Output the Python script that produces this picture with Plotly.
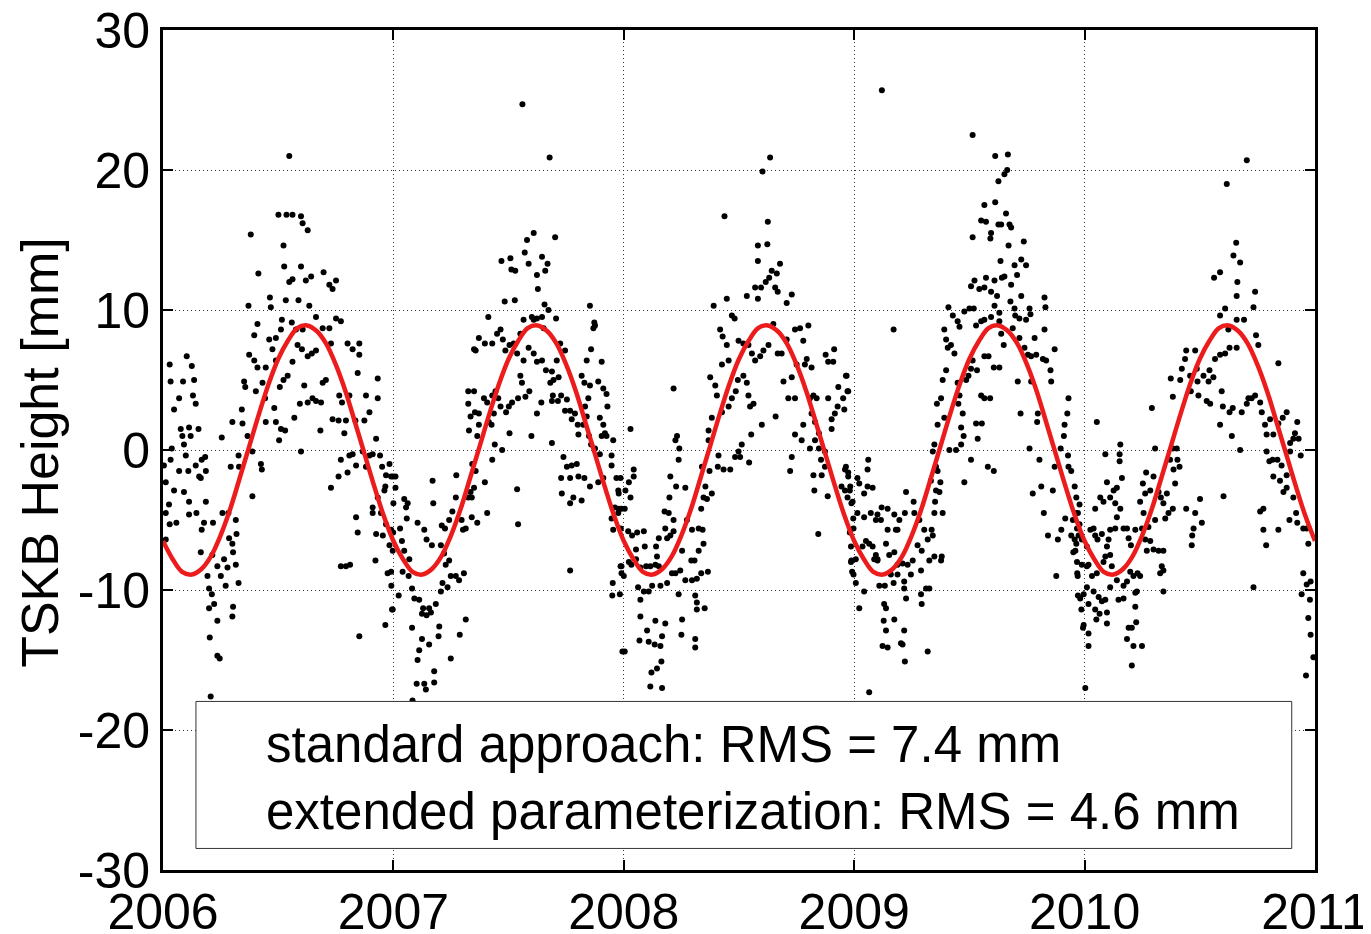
import plotly.graph_objects as go

# daily height residuals, (fraction of year, height in mm)
dots_2006 = [
    (.548, 21.0), (.501, 16.8), (.536, 16.8), (.562, 16.8), (.599, 16.7), (.606, 16.2), (.628, 15.7), (.381, 15.4),
    (.523, 14.6), (.414, 12.6), (.526, 13.1), (.599, 13.1), (.643, 12.4), (.697, 12.7), (.722, 11.8), (.736, 11.5),
    (.751, 12.1), (.548, 12.0), (.562, 12.2), (.533, 10.7), (.588, 10.7), (.620, 12.1), (.635, 10.3), (.464, 10.9),
    (.468, 10.2), (.371, 10.3), (.664, 9.5), (.693, 8.7), (.722, 8.7), (.751, 9.4), (.772, 9.2), (.410, 9.0),
    (.396, 8.2), (.461, 7.9), (.490, 8.0), (.512, 8.6), (.516, 9.3), (.559, 9.1), (.577, 8.6), (.606, 8.6),
    (.374, 6.8), (.396, 6.4), (.410, 5.9), (.446, 5.9), (.432, 4.8), (.475, 7.2), (.490, 6.4), (.523, 5.0),
    (.507, 4.5), (.541, 5.3), (.562, 6.3), (.584, 7.5), (.603, 7.2), (.628, 6.7), (.646, 6.9), (.664, 7.1),
    (.613, 4.6), (.649, 3.7), (.693, 4.8), (.707, 5.0), (.352, 4.9), (.357, 4.5), (.403, 4.2), (.443, 3.7),
    (.483, 3.0), (.490, 2.0), (.530, 1.4), (.570, 2.3), (.594, 3.3), (.628, 3.4), (.664, 3.5), (.686, 3.4),
    (.683, 1.4), (.599, -0.1), (.504, 0.7), (.512, 1.5), (.446, 2.0), (.342, 2.9), (.345, 1.9), (.301, 2.0),
    (.367, 1.0), (.328, -0.4), (.330, -1.2), (.388, -0.1), (.425, -1.0), (.429, -1.4), (.388, -3.3), (.255, 0.9),
    (.294, -1.2), (.729, 7.6), (.801, 7.6), (.823, 7.2), (.852, 7.6), (.852, 6.8), (.845, 5.5), (.809, 3.9),
    (.765, 3.9), (.777, 3.4), (.736, 2.2), (.762, 2.1), (.794, 2.1), (.835, 2.1), (.874, 2.1), (.896, 2.7),
    (.881, 3.9), (.932, 5.1), (.932, 3.7), (.787, 1.2), (.772, -0.7), (.809, -0.4), (.823, -0.3), (.762, -1.9),
    (.729, -2.7), (.801, -1.6), (.838, -1.1), (.867, -0.1), (.881, -1.2), (.896, -0.4), (.910, -0.3), (.925, 0.8),
    (.942, -0.4), (.951, -1.2), (.968, -1.8), (.983, -1.0), (.990, -1.9), (.999, -1.9), (.965, -2.6), (.961, -2.9),
    (.932, -3.4), (.910, -4.1), (.925, -6.0), (.910, -4.5), (.946, -4.5), (.968, -5.3), (.954, -6.1), (.983, -6.8),
    (.997, -7.2), (.975, -8.8), (.991, -9.7), (.999, -5.9), (.838, -4.8), (.845, -5.9), (.772, -8.3), (.794, -8.3),
    (.812, -8.2), (.994, -11.4), (.965, -12.5), (.852, -13.3), (.922, -7.9),
    (.029, 6.1), (.033, 4.9), (.048, 2.9), (.070, 3.7), (.087, 4.9), (.103, 6.7), (.125, 6.0), (.135, 5.0),
    (.130, 3.9), (.142, 3.3), (.154, 1.5), (.077, 1.5), (.084, 1.0), (.091, 0.4), (.113, 1.6), (.120, 1.0),
    (.099, -0.4), (.033, -0.7), (.038, 0.1), (.004, -1.1), (.012, -2.3), (.026, -3.9), (.048, -2.9), (.070, -1.5),
    (.091, -3.0), (.110, -1.5), (.113, -3.7), (.142, -1.1), (.157, -1.9), (.168, -0.7), (.183, -0.5), (.186, -1.5),
    (.164, -2.0), (.186, -3.7), (.029, -5.3), (.058, -5.2), (.113, -4.6), (.145, -4.5), (.012, -6.4), (.012, -4.5),
    (.168, -5.7), (.178, -5.2), (.217, -5.2), (.164, -7.3), (.193, -9.0), (.214, -7.5), (.236, -8.3), (.251, -9.0),
    (.265, -7.8), (.280, -8.4), (.287, -6.3), (.301, -6.7), (.316, -5.0), (.319, -6.0), (.304, -7.3), (.316, -8.2),
    (.328, -9.5), (.272, -9.7), (.200, -9.9), (.212, -10.3), (.222, -11.0), (.200, -11.3), (.236, -12.2), (.304, -11.2),
    (.301, -11.9), (.203, -13.4), (.236, -14.7), (.246, -14.9), (.207, -17.6), (.258, -4.5), (.284, -4.5),
]

dots_2007 = [
    (.560, 24.7), (.678, 20.9), (.609, 15.5), (.702, 15.2), (.580, 15.0), (.570, 14.1), (.587, 13.3), (.623, 12.5),
    (.627, 11.5), (.645, 13.8), (.659, 12.8), (.669, 13.3), (.469, 13.5), (.508, 13.7), (.512, 12.9), (.529, 12.8),
    (.527, 10.7), (.483, 10.6), (.673, 10.0), (.706, 9.4), (.656, 10.4), (.412, 9.5), (.371, 8.0), (.357, 7.1),
    (.350, 7.2), (.397, 7.6), (.465, 8.6), (.450, 8.3), (.429, 7.6), (.475, 7.9), (.486, 7.1), (.504, 7.5),
    (.522, 7.6), (.537, 6.9), (.551, 8.3), (.565, 9.3), (.601, 9.5), (.609, 9.3), (.623, 9.4), (.645, 9.5),
    (.652, 8.7), (.587, 7.3), (.609, 6.9), (.623, 6.3), (.645, 6.4), (.662, 5.7), (.688, 5.6), (.709, 6.4),
    (.724, 7.6), (.745, 7.1), (.681, 4.8), (.695, 5.0), (.717, 5.2), (.565, 6.4), (.551, 5.3), (.558, 4.8),
    (.541, 3.7), (.573, 3.8), (.590, 4.2), (.623, 2.6), (.642, 3.4), (.688, 3.5), (.692, 3.9), (.714, 3.5),
    (.325, 4.2), (.350, 4.2), (.325, 3.3), (.335, 2.4), (.354, 2.7), (.371, 2.6), (.328, 1.4), (.371, 1.8),
    (.364, 1.0), (.393, 3.7), (.407, 3.4), (.429, 3.9), (.443, 4.2), (.455, 3.7), (.436, 2.6), (.414, 2.0),
    (.426, 1.8), (.465, 3.1), (.489, 2.7), (.501, 3.1), (.515, 3.4), (.504, 1.2), (.472, 0.0), (.440, 0.4),
    (.429, -0.7), (.397, -2.3), (.407, -4.5), (.364, -5.2), (.340, -4.8), (.357, -1.5), (.342, -1.0), (.350, -2.7),
    (.340, -3.4), (.537, -2.8), (.541, -5.3), (.599, 1.0), (.688, 0.5), (.728, 3.9), (.753, 3.6), (.745, 2.8),
    (.767, 2.8), (.774, 2.2), (.788, 2.6), (.800, 1.8), (.803, 1.1), (.824, 1.8), (.839, 2.4), (.832, 3.1),
    (.846, 3.7), (.817, 5.3), (.829, 4.8), (.853, 4.6), (.839, 6.4), (.858, 7.2), (.872, 9.1), (.868, 8.7),
    (.904, 6.3), (.889, 4.9), (.911, 4.4), (.925, 4.0), (.929, 3.1), (.853, 10.3), (.875, 8.9), (.896, 2.3),
    (.911, 1.8), (.918, 1.2), (.904, 1.0), (.849, 1.0), (.858, 0.4), (.875, 0.1), (.896, -0.3), (.925, 1.0),
    (.954, 0.7), (.947, -0.4), (.947, -1.1), (.968, -2.0), (.976, -2.9), (.990, -4.2), (.961, -4.1), (.911, -2.0),
    (.889, -2.3), (.853, -2.6), (.738, -0.5), (.753, -1.2), (.774, -1.1), (.796, -1.0), (.767, -2.0), (.803, -1.9),
    (.829, -2.0), (.728, -2.0), (.731, -3.1), (.767, -3.8), (.781, -3.4), (.817, -3.6), (.947, -4.9), (.976, -4.5),
    (.987, -5.6), (.954, -5.7), (.990, -8.3), (.990, -8.8), (.983, -10.3), (.952, -9.5), (.950, -10.4), (.994, -14.4),
    (.767, -8.6),
    (.009, -1.9), (.009, -2.7), (.000, -3.8), (-.010, -5.7), (.029, -5.6), (.047, -3.5), (.062, -3.8), (.058, -4.9),
    (.037, -6.5), (.047, -7.2), (.069, -7.8), (.066, -9.0), (.040, -8.7), (.023, -10.4), (-.003, -11.4), (-.010, -8.7),
    (.105, -5.2), (.134, -5.7), (.144, -6.4), (.167, -6.8), (.170, -2.2), (.173, -3.8), (.055, -4.1), (.081, -9.9),
    (.091, -10.6), (.112, -10.7), (.129, -11.3), (.155, -11.3), (.144, -11.8), (.124, -11.7), (.163, -11.6), (.184, -11.0),
    (.206, -10.1), (.213, -9.5), (.235, -9.8), (.249, -9.0), (.271, -9.0), (.285, -9.3), (.306, -8.8), (.227, -8.2),
    (.242, -7.9), (.220, -7.4), (.206, -6.8), (.210, -5.4), (.224, -5.6), (.242, -5.0), (.256, -4.4), (.271, -3.4),
    (.273, -1.8), (.302, -5.7), (.314, -5.6), (.296, -5.0), (.325, -3.4), (.335, -3.0), (.314, -12.1), (.288, -13.2),
    (.199, -12.6), (.196, -13.3), (.155, -13.9), (.124, -13.5), (.112, -14.3), (.105, -15.0), (.101, -16.7), (.134, -16.7),
    (.141, -17.1), (.177, -16.6), (.177, -15.8), (.249, -14.9), (.081, -12.7), (.083, -17.9),
]

dots_2008 = [
    (.635, 20.9), (.602, 19.9), (.437, 16.7), (.625, 16.3), (.623, 14.7), (.582, 14.6), (.582, 13.5), (.642, 12.8),
    (.664, 12.6), (.678, 13.3), (.570, 11.6), (.596, 11.6), (.616, 12.0), (.631, 12.3), (.657, 11.6), (.668, 11.3),
    (.707, 10.5), (.729, 11.1), (.534, 11.0), (.582, 10.8), (.447, 10.8), (.469, 9.6), (.481, 9.4), (.390, 10.3),
    (.418, 8.6), (.429, 8.1), (.447, 7.5), (.455, 6.4), (.426, 6.1), (.498, 7.8), (.519, 7.6), (.541, 7.5),
    (.556, 6.9), (.570, 6.4), (.592, 6.7), (.606, 7.1), (.628, 7.5), (.649, 9.0), (.668, 6.9), (.685, 6.9),
    (.707, 7.9), (.743, 8.6), (.765, 8.7), (.779, 7.8), (.801, 8.9), (.794, 6.5), (.786, 6.1), (.815, 5.9),
    (.750, 6.1), (.729, 5.2), (.693, 4.9), (.714, 3.7), (.743, 3.7), (.375, 5.2), (.397, 4.6), (.404, 3.9),
    (.382, 2.3), (.368, 1.4), (.426, 2.7), (.455, 3.1), (.469, 3.7), (.486, 4.2), (.495, 5.0), (.519, 5.3),
    (.534, 4.8), (.541, 3.9), (.548, 3.1), (.563, 3.3), (.599, 1.8), (.553, 1.1), (.512, 0.4), (.498, -0.1),
    (.505, -0.5), (.483, -0.5), (.462, -1.4), (.433, -1.4), (.411, -0.4), (.408, -1.2), (.372, -1.5), (.382, -3.1),
    (.354, -2.6), (.361, -3.5), (.336, -4.2), (.346, -3.4), (.368, 0.7), (.339, -1.2), (.544, -0.9), (.659, 2.4),
    (.722, -1.5), (.729, -0.5), (.743, 1.1), (.772, 0.7), (.779, 1.8), (.808, 0.1), (.830, 0.7), (.847, 0.1),
    (.856, -0.7), (.873, -1.2), (.873, -0.1), (.902, 1.5), (.916, 2.6), (.928, 3.1), (.931, 4.5), (.952, 3.7),
    (.967, 5.3), (.974, 4.2), (.887, 6.3), (.909, 6.3), (.913, 7.2), (.876, 6.8), (.887, 3.7), (.902, 2.2),
    (.830, 2.0), (.837, 3.7), (.808, 3.7), (.815, 2.6), (.823, 3.9), (.847, 1.2), (.859, -1.8), (.827, -2.9),
    (.885, -3.3), (.823, -1.8), (.844, -6.0), (.960, -1.4), (.974, -1.9), (.981, -2.9), (.960, -2.9), (.945, -2.6),
    (.988, -3.8), (.996, -4.9), (.981, -5.9), (.988, -7.9), (.991, -8.7),
    (.029, 1.5), (.043, -1.4), (.043, -1.9), (.022, -2.3), (.029, -3.4), (.007, -2.9), (-.014, -2.0), (-.022, -3.1),
    (-.022, -4.2), (.004, -4.2), (.019, -5.8), (.036, -6.1), (.058, -5.9), (.087, -5.8), (.091, -6.9), (.053, -7.1),
    (.033, -8.2), (.022, -8.0), (.000, -9.0), (-.014, -8.3), (.053, -7.8), (.072, -8.4), (.097, -8.3), (.115, -8.3),
    (.137, -8.2), (.152, -8.3), (.144, -7.6), (.140, -6.9), (.152, -6.3), (.180, -5.6), (.188, -6.3), (.202, -6.1),
    (.216, -5.8), (.195, -4.5), (.177, -4.4), (.198, -3.4), (.216, -5.0), (.202, -1.9), (.227, -2.6), (.238, -0.7),
    (.241, 0.1), (.224, 0.7), (.231, 1.0), (.216, 4.4), (.267, -2.7), (.274, -5.0), (.296, -5.7), (.325, -5.6),
    (.342, -5.7), (.293, -7.9), (.307, -7.9), (.325, -7.2), (.346, -6.7), (.336, -8.8), (.317, -9.2), (.296, -9.3),
    (.267, -9.3), (.224, -8.8), (.209, -8.8), (.188, -9.5), (.159, -9.7), (.123, -9.7), (.108, -10.1), (.087, -10.1),
    (.062, -9.8), (.072, -10.7), (.072, -11.9), (.101, -12.9), (.068, -13.6), (.108, -13.7), (.134, -13.9), (.159, -14.0),
    (.166, -13.3), (.180, -12.4), (.253, -12.1), (.250, -13.2), (.137, -12.2), (.163, -15.1), (.120, -15.9), (.115, -16.9),
    (.144, -15.6), (.166, -17.0), (.310, -13.5), (.310, -14.1), (.310, -10.4), (.317, -10.9), (.317, -11.4), (.351, -11.3),
    (.238, -10.3), (.004, -14.4), (.253, -7.2), (.245, -8.6), (.365, -8.7),
]

dots_2009 = [
    (.120, 25.7), (.514, 22.5), (.612, 21.0), (.667, 21.1), (.626, 19.2), (.652, 19.7), (.664, 20.0), (.565, 17.5),
    (.551, 16.4), (.572, 16.3), (.591, 15.1), (.594, 15.5), (.612, 17.7), (.626, 16.1), (.638, 16.1), (.659, 16.9),
    (.674, 16.1), (.681, 15.9), (.514, 15.2), (.670, 14.6), (.736, 14.9), (.635, 13.5), (.696, 13.2), (.725, 13.6),
    (.746, 13.2), (.652, 12.4), (.641, 12.3), (.609, 12.1), (.594, 11.3), (.572, 12.3), (.543, 11.5), (.507, 11.7),
    (.522, 12.1), (.707, 12.5), (.681, 11.8), (.725, 11.0), (.620, 11.0), (.609, 10.3), (.565, 11.6), (.409, 10.2),
    (.428, 9.6), (.449, 9.2), (.457, 8.8), (.478, 9.9), (.500, 10.1), (.519, 10.1), (.529, 8.9), (.551, 9.2),
    (.565, 9.3), (.594, 9.5), (.630, 9.8), (.630, 9.2), (.678, 10.6), (.696, 10.1), (.699, 9.6), (.717, 9.4),
    (.746, 9.3), (.761, 10.1), (.765, 9.7), (.826, 10.9), (.830, 10.2), (.826, 8.6), (.783, 8.0), (.768, 6.7),
    (.790, 6.8), (.819, 6.5), (.833, 6.4), (.870, 7.2), (.852, 5.7), (.855, 4.9), (.768, 4.9), (.710, 4.9),
    (.638, 8.3), (.649, 7.5), (.688, 8.7), (.717, 8.0), (.739, 7.3), (.754, 6.8), (.391, 8.6), (.399, 7.9),
    (.406, 7.3), (.420, 7.5), (.435, 6.9), (.399, 5.7), (.384, 5.0), (.359, 3.3), (.377, 3.7), (.391, 2.3),
    (.362, 1.8), (.348, 0.4), (.341, -0.1), (.355, -1.2), (.374, -2.3), (.384, -4.5), (.377, -7.9), (.413, 0.0),
    (.442, 0.0), (.464, 0.4), (.475, 1.0), (.464, 1.6), (.471, 2.6), (.452, 3.3), (.457, 3.9), (.449, 4.8),
    (.486, 5.0), (.496, 5.3), (.507, 5.8), (.514, 6.4), (.533, 5.7), (.551, 3.9), (.565, 3.7), (.565, 6.7),
    (.583, 6.7), (.590, 3.7), (.606, 5.9), (.529, 1.9), (.554, 1.9), (.536, 0.8), (.507, -0.7), (.478, -2.3),
    (.580, -1.2), (.606, -1.5), (.630, 5.9), (.722, 2.6), (.761, 0.1), (.797, 2.6), (.794, 2.0), (.804, -0.7),
    (.775, -3.1), (.823, -4.5), (.841, -6.1), (.812, -2.6), (.862, -2.9), (.870, -1.2), (.896, 0.1), (.910, 1.0),
    (.925, 2.6), (.930, 3.7), (.913, 1.8), (.928, -0.4), (.930, -1.2), (.942, -1.5), (.957, -2.6), (.964, -3.4),
    (.978, -3.9), (.971, -4.5), (.949, -5.0), (.916, -4.9), (.899, -5.7), (.884, -6.4), (.942, -6.1), (.957, -6.4),
    (.964, -6.7), (.978, -5.3), (.988, -6.4), (.951, -7.3), (.968, -8.8), (.988, -8.2), (.971, -10.4), (.986, -11.4),
    (.993, -12.7), (.877, -9.0),
    (-.036, 5.3), (-.029, 4.2), (-.043, 2.9), (-.036, -1.2), (-.026, -1.6), (-.017, -2.6), (-.029, -3.4), (-.007, -3.7),
    (.014, -2.0), (.022, -2.4), (.043, -3.1), (.058, -2.6), (.061, -0.7), (.058, -1.4), (.080, -2.7), (.101, -4.6),
    (.119, -4.1), (.145, -4.2), (.174, -4.6), (.196, -5.0), (.225, -3.0), (.220, -4.5), (.188, -5.7), (.181, -5.7),
    (.145, -5.7), (.116, -5.0), (.094, -5.0), (.072, -4.5), (.043, -4.8), (.014, -4.5), (-.003, -5.6), (-.014, -6.9),
    (.007, -7.8), (-.014, -8.0), (-.003, -8.9), (.007, -9.5), (.036, -6.9), (.065, -6.7), (.051, -6.5), (.080, -6.9),
    (.094, -7.5), (.101, -7.9), (.138, -6.7), (.152, -7.5), (.174, -7.3), (.188, -8.2), (.210, -8.1), (.232, -8.2),
    (.254, -7.9), (.246, -8.9), (.188, -8.9), (.159, -8.9), (.101, -7.8), (.087, -7.8), (.133, -9.7), (.171, -9.5),
    (.217, -9.4), (.217, -9.9), (.225, -10.6), (.109, -9.7), (.043, -10.1), (.022, -11.3), (.130, -11.0), (.138, -11.3),
    (.128, -12.2), (.138, -12.9), (.174, -12.1), (.203, -13.8), (.217, -12.9), (.210, -13.9), (.220, -15.1), (.145, -14.1),
    (.123, -14.0), (.319, -14.4), (.065, -17.3), (.258, -3.7), (.261, -4.5), (.283, -5.0), (.304, -5.7), (.275, -6.8),
    (.293, -7.2), (.319, -6.4), (.336, -5.7), (.290, -8.6), (.312, -9.9), (.290, -10.3), (.293, -11.0), (.326, -9.9),
    (.326, -7.9), (.348, -7.6), (.341, -6.1), (.348, -4.5), (.351, -3.7), (.355, -2.9), (.370, -3.0), (.333, -2.2),
    (.362, -1.5), (.380, -7.6), (.171, 8.6),
]

dots_2010 = [
    (.704, 20.7), (.617, 19.0), (.658, 14.8), (.646, 13.9), (.675, 13.4), (.562, 12.3), (.588, 12.7), (.663, 12.0),
    (.660, 11.0), (.740, 11.3), (.610, 10.1), (.588, 9.6), (.660, 9.3), (.692, 9.3), (.733, 10.2), (.744, 8.2),
    (.754, 7.5), (.841, 6.2), (.624, 8.6), (.629, 7.3), (.660, 7.3), (.610, 6.9), (.588, 6.8), (.566, 6.5),
    (.542, 5.7), (.559, 5.2), (.538, 4.9), (.516, 5.3), (.480, 7.1), (.487, 5.8), (.441, 7.1), (.436, 6.5),
    (.422, 5.8), (.415, 5.0), (.374, 5.1), (.383, 3.8), (.458, 5.3), (.461, 4.2), (.490, 4.9), (.494, 3.9),
    (.530, 3.5), (.545, 3.3), (.595, 4.2), (.600, 3.1), (.629, 2.7), (.643, 3.0), (.588, 1.8), (.639, 1.0),
    (.682, 2.7), (.704, 3.3), (.711, 3.7), (.725, 3.7), (.740, 3.9), (.762, 3.4), (.769, 2.7), (.783, 1.8),
    (.790, 1.1), (.819, 1.1), (.805, 2.2), (.841, 1.9), (.860, 2.3), (.877, 2.7), (.892, 0.5), (.906, 0.8),
    (.913, 1.2), (.923, 2.0), (.929, 0.8), (.938, -0.4), (.892, -0.1), (.877, -1.8), (.855, -1.1), (.837, -0.7),
    (.816, -0.7), (.802, -0.8), (.790, -0.1), (.819, -1.9), (.848, -2.2), (.863, -3.0), (.877, -2.7), (.889, -5.0),
    (.906, -3.4), (.918, -4.5), (.923, -5.2), (.949, -5.6), (.964, -5.6), (.971, -6.7), (.949, -8.8), (.942, -10.3),
    (.964, -9.6), (.981, -9.4), (.978, -10.7), (.971, -12.0), (.981, -13.2), (.993, -14.8), (.961, -16.1), (.733, -9.8),
    (.762, -4.4), (.776, -4.2), (.776, -5.7), (.788, -6.8), (.841, -5.7), (.675, 0.0), (.603, -3.3), (.292, 3.0),
    (.306, 0.1), (.299, -1.9), (.321, -3.0), (.331, -3.4), (.342, -3.8), (.350, -4.9), (.364, -4.5), (.383, -4.2),
    (.357, -3.1), (.393, -2.4), (.386, -1.4), (.371, -0.7), (.383, 0.1), (.400, 0.1), (.403, -0.7), (.412, -1.2),
    (.441, -4.2), (.467, -6.1), (.465, -6.8), (.473, -5.6), (.501, -3.5), (.480, -4.5), (.509, -5.2), (.342, -7.2),
    (.335, -8.3), (.328, -8.8), (.342, -8.6), (.342, -10.1), (.321, -7.2), (.299, -7.1), (.285, -6.5), (.270, -7.2),
    (.277, -5.5), (.256, -4.5), (.263, -3.1), (.253, -2.4), (.241, -3.7), (.267, -1.6), (.285, -2.9), (.306, -5.0),
    (-.040, -4.5), (-.033, -5.6), (-.026, -6.1), (-.040, -7.2), (-.033, -8.0), (-.030, -9.0), (.010, -6.9), (.025, -5.7),
    (.039, -5.6), (.046, -6.1), (.017, -8.2), (.010, -8.3), (.032, -9.0), (.010, -9.8), (-.004, -10.3), (-.019, -10.6),
    (.017, -11.0), (.039, -10.1), (.061, -10.5), (.075, -10.8), (.046, -11.4), (.065, -11.7), (.051, -12.1), (-.004, -12.5),
    (.017, -13.1), (.017, -14.0), (.003, -17.0), (.053, -8.8), (.082, -8.0), (.090, -7.6), (.097, -6.9), (.111, -5.7),
    (.133, -5.6), (.075, -6.0), (.056, -6.4), (.104, -6.4), (.140, -4.8), (.133, -3.8), (.126, -2.9), (.140, -2.7),
    (.152, -0.8), (.155, 0.4), (.152, -0.3), (.162, -2.0), (.155, -4.2), (.169, -5.6), (.184, -5.6), (.191, -6.3),
    (.201, -6.8), (.220, -5.7), (.249, -5.6), (.263, -6.4), (.198, -8.7), (.212, -9.0), (.230, -8.8), (.241, -9.0),
    (.220, -10.2), (.227, -10.1), (.184, -9.4), (.169, -9.7), (.140, -9.3), (.118, -8.3), (.111, -7.5), (.111, -9.8),
    (.147, -10.7), (.169, -10.6), (.191, -12.7), (.205, -12.7), (.184, -13.5), (.212, -14.0), (.249, -14.0), (.205, -15.4),
    (.220, -11.2), (.224, -12.3), (.090, -10.7), (.097, -11.6), (.097, -12.4), (.053, 2.0), (.090, -0.3), (.097, -2.3),
    (.068, -3.4), (.046, -4.2), (.082, -3.7), (.111, -3.4),
]

dots_by_year = {2006: dots_2006, 2007: dots_2007, 2008: dots_2008, 2009: dots_2009, 2010: dots_2010}

# annual signal model (red line), sampled twice a month
curve_t = [
    2006.000, 2006.042, 2006.083, 2006.125, 2006.167, 2006.208, 2006.250, 2006.292, 2006.333, 2006.375, 2006.417, 2006.458,
    2006.500, 2006.542, 2006.583, 2006.625, 2006.667, 2006.708, 2006.750, 2006.792, 2006.833, 2006.875, 2006.917, 2006.958,
    2007.000, 2007.042, 2007.083, 2007.125, 2007.167, 2007.208, 2007.250, 2007.292, 2007.333, 2007.375, 2007.417, 2007.458,
    2007.500, 2007.542, 2007.583, 2007.625, 2007.667, 2007.708, 2007.750, 2007.792, 2007.833, 2007.875, 2007.917, 2007.958,
    2008.000, 2008.042, 2008.083, 2008.125, 2008.167, 2008.208, 2008.250, 2008.292, 2008.333, 2008.375, 2008.417, 2008.458,
    2008.500, 2008.542, 2008.583, 2008.625, 2008.667, 2008.708, 2008.750, 2008.792, 2008.833, 2008.875, 2008.917, 2008.958,
    2009.000, 2009.042, 2009.083, 2009.125, 2009.167, 2009.208, 2009.250, 2009.292, 2009.333, 2009.375, 2009.417, 2009.458,
    2009.500, 2009.542, 2009.583, 2009.625, 2009.667, 2009.708, 2009.750, 2009.792, 2009.833, 2009.875, 2009.917, 2009.958,
    2010.000, 2010.042, 2010.083, 2010.125, 2010.167, 2010.208, 2010.250, 2010.292, 2010.333, 2010.375, 2010.417, 2010.458,
    2010.500, 2010.542, 2010.583, 2010.625, 2010.667, 2010.708, 2010.750, 2010.792, 2010.833, 2010.875, 2010.917, 2010.958,
    2011.000,
]
curve_h = [
    -6.5, -7.8, -8.7, -8.9, -8.5, -7.6, -6.1, -4.2, -2.0, 0.3, 2.6, 4.7, 6.5, 7.8, 8.7, 8.9, 8.5, 7.6, 6.1, 4.2, 2.0, -0.3, -2.6, -4.7,
    -6.5, -7.8, -8.7, -8.9, -8.5, -7.6, -6.1, -4.2, -2.0, 0.3, 2.6, 4.7, 6.5, 7.8, 8.7, 8.9, 8.5, 7.6, 6.1, 4.2, 2.0, -0.3, -2.6, -4.7,
    -6.5, -7.8, -8.7, -8.9, -8.5, -7.6, -6.1, -4.2, -2.0, 0.3, 2.6, 4.7, 6.5, 7.8, 8.7, 8.9, 8.5, 7.6, 6.1, 4.2, 2.0, -0.3, -2.6, -4.7,
    -6.5, -7.8, -8.7, -8.9, -8.5, -7.6, -6.1, -4.2, -2.0, 0.3, 2.6, 4.7, 6.5, 7.8, 8.7, 8.9, 8.5, 7.6, 6.1, 4.2, 2.0, -0.3, -2.6, -4.7,
    -6.5, -7.8, -8.7, -8.9, -8.5, -7.6, -6.1, -4.2, -2.0, 0.3, 2.6, 4.7, 6.5, 7.8, 8.7, 8.9, 8.5, 7.6, 6.1, 4.2, 2.0, -0.3, -2.6, -4.7,
    -6.5,
]

x_ticks = [2006, 2007, 2008, 2009, 2010, 2011]
x_tick_text = ["2006", "2007", "2008", "2009", "2010", "2011"]
y_ticks = [-30, -20, -10, 0, 10, 20, 30]
y_tick_text = ["-30", "-20", "-10", "0", "10", "20", "30"]

legend_lines = ["standard approach: RMS = 7.4 mm", "extended parameterization: RMS = 4.6 mm"]
y_title = "TSKB Height [mm]"

FONT = "Liberation Sans, Arial, Helvetica, sans-serif"

dot_x, dot_h = [], []
for yr, pts in dots_by_year.items():
    for f, h in pts:
        dot_x.append(yr + f)
        dot_h.append(h)

fig = go.Figure()
fig.add_trace(go.Scatter(x=dot_x, y=dot_h, mode="markers",
                         marker=dict(color="black", size=6, line=dict(width=0)),
                         hoverinfo="skip"))
fig.add_trace(go.Scatter(x=curve_t, y=curve_h, mode="lines",
                         line=dict(color="#ec1c1c", width=4.5, shape="spline"),
                         hoverinfo="skip"))

axis_style = dict(
    showline=True, linewidth=3, linecolor="black", mirror="ticks",
    ticks="inside", ticklen=10, tickwidth=2, tickcolor="black",
    showgrid=True, gridcolor="#333333", gridwidth=1, griddash="1px,3px",
    zeroline=False, automargin=False, ticklabeloverflow="allow",
    tickfont=dict(family=FONT, size=50, color="black"),
)

fig.update_xaxes(range=[2006, 2011], tickvals=x_ticks, ticktext=x_tick_text,
                 ticklabelstandoff=-4, **axis_style)
fig.update_yaxes(range=[-30, 30], tickvals=y_ticks, ticktext=y_tick_text, **axis_style)

# legend-style text box
fig.add_shape(type="rect", xref="x", yref="y", x0=2006.143, x1=2010.899, y0=-28.46, y1=-17.96,
              line=dict(color="#333333", width=1), fillcolor="white", layer="above")
for txt, yv in zip(legend_lines, [-21.0, -25.8]):
    fig.add_annotation(x=2006.44, y=yv, xref="x", yref="y", text=txt, showarrow=False,
                       xanchor="left", yanchor="middle",
                       font=dict(family=FONT, size=51, color="black"))

fig.add_annotation(x=-0.107, y=0.4975, xref="paper", yref="paper", text=y_title,
                   textangle=-90, showarrow=False, xanchor="center", yanchor="middle",
                   font=dict(family=FONT, size=52, color="black"))

fig.update_layout(
    width=1363, height=926,
    margin=dict(l=155, r=56, t=22, b=64),
    paper_bgcolor="white", plot_bgcolor="white",
    showlegend=False,
    font=dict(family=FONT, color="black"),
)

fig.write_html("out.html")
